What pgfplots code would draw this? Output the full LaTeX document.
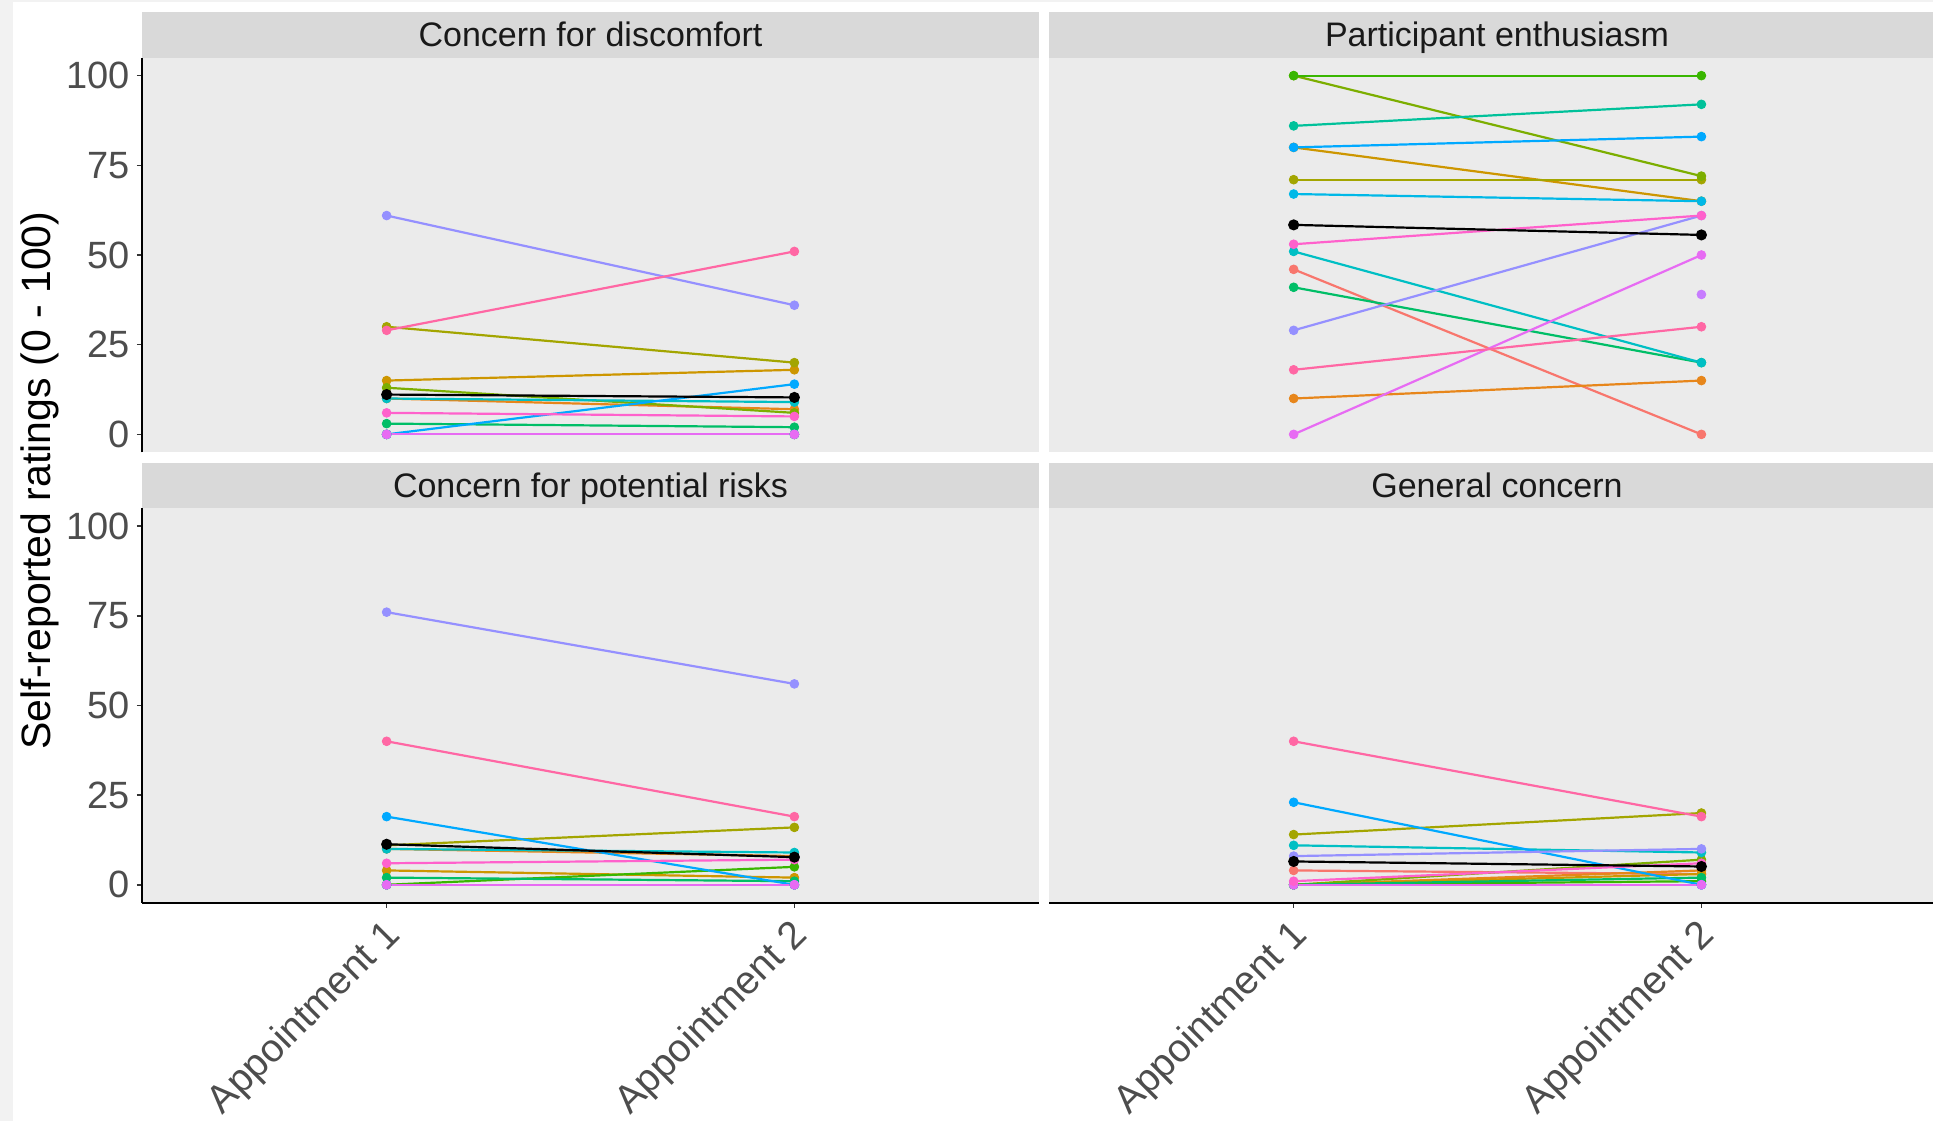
\documentclass[border=0pt]{standalone}
\usepackage{pgfplots}
\pgfplotsset{compat=1.18}
\usepackage{pgfplotstable}
\usepackage{fontspec}
\setmainfont{Liberation Sans}

\definecolor{c1}{HTML}{F8766D}
\definecolor{c2}{HTML}{E7861B}
\definecolor{c3}{HTML}{CD9600}
\definecolor{c4}{HTML}{A3A500}
\definecolor{c5}{HTML}{7CAE00}
\definecolor{c6}{HTML}{39B600}
\definecolor{c7}{HTML}{00BE67}
\definecolor{c8}{HTML}{00C19A}
\definecolor{c9}{HTML}{00BFC4}
\definecolor{c10}{HTML}{00B8E7}
\definecolor{c11}{HTML}{00A9FF}
\definecolor{c12}{HTML}{9590FF}
\definecolor{c13}{HTML}{C77CFF}
\definecolor{c14}{HTML}{E76BF3}
\definecolor{c15}{HTML}{FF61CC}
\definecolor{c16}{HTML}{FF67A4}
\definecolor{panelbg}{HTML}{EBEBEB}
\definecolor{stripbg}{HTML}{D9D9D9}
\definecolor{ticktxt}{HTML}{4D4D4D}
\definecolor{tickc}{HTML}{333333}
\definecolor{outerbg}{HTML}{F2F2F2}

% Concern for discomfort
\pgfplotstableread{
x p1 p2 p3 p4 p5 p6 p7 p8 p9 p10 p11 p12 p13 p14 p15 p16 m
1 0 10 15 30 13 0 3 0 10 0 0 61 0 0 6 29 11.1
2 0 7 18 20 6 0 2 0 9 0 14 36 0 0 5 51 10.3
}\tabA
% Participant enthusiasm
\pgfplotstableread{
x p1 p2 p3 p4 p5 p6 p7 p8 p9 p10 p11 p12 p13 p14 p15 p16 m
1 46 10 80 71 100 100 41 86 51 67 80 29 nan 0 53 18 58.4
2 0 15 65 71 72 100 20 92 20 65 83 61 39 50 61 30 55.6
}\tabB
% Concern for potential risks
\pgfplotstableread{
x p1 p2 p3 p4 p5 p6 p7 p8 p9 p10 p11 p12 p13 p14 p15 p16 m
1 0 10 4 11 0 0 2 0 10 0 19 76 0 0 6 40 11.3
2 0 8 2 16 0 5 1 0 9 0 0 56 0 0 7 19 7.7
}\tabC
% General concern
\pgfplotstableread{
x p1 p2 p3 p4 p5 p6 p7 p8 p9 p10 p11 p12 p13 p14 p15 p16 m
1 4 0 0 14 0 0 0 0 11 0 23 8 0 0 1 40 6.5
2 3 4 3 20 7 1 2 0 9 0 0 10 0 0 6 19 5.1
}\tabD

\newcommand{\plotpanel}[1]{%
  \pgfplotsinvokeforeach{1,...,16}{\addplot[c##1, line width=1.1pt, forget plot] table[x=x, y=p##1] {#1};}
  \pgfplotsinvokeforeach{1,...,16}{\addplot[c##1, only marks, mark=*, mark size=2.2pt, forget plot] table[x=x, y=p##1] {#1};}
  \addplot[black, line width=1.1pt, mark=*, mark size=2.2pt, forget plot] table[x=x, y=m] {#1};
}

\pgfplotsset{
  panel/.style={
    scale only axis, anchor=south west,
    height=197.3pt,
    xmin=0.4, ymin=-5, ymax=105,
    axis line style={draw=none},
    axis background/.style={fill=panelbg},
    unbounded coords=jump,
    clip=false,
    xtick pos=bottom, ytick pos=left,
    tick align=outside,
    major tick length=2.6pt,
    tick style={color=tickc, line width=0.8pt},
    xtick={1,2}, xticklabels={Appointment 1, Appointment 2},
    ytick={0,25,50,75,100},
    /pgf/number format/assume math mode=true,
    yticklabel style={font=\fontsize{19}{22}\selectfont, text=ticktxt, anchor=east, inner sep=0pt, xshift=-3.2pt},
    xticklabel style={font=\fontsize{19.6}{22}\selectfont, text=ticktxt, xshift=-2.6pt, yshift=-4.0pt, rotate=45, anchor=north east, inner sep=0pt},
  },
  leftp/.style={width=448.5pt, xmax=2.6},
  rightp/.style={width=442pt, xmax=2.568, ytick=\empty},
  topp/.style={xtick=\empty},
}

\begin{document}
\begin{tikzpicture}
\useasboundingbox (0,0) rectangle (966.5pt,-560.5pt);
\fill[outerbg] (0,0) rectangle (966.5pt,-560.5pt);
\fill[white] (6.35pt,-1.15pt) rectangle (966.5pt,-560.5pt);

% strips
\fill[stripbg] (71pt,-5.85pt) rectangle (519.5pt,-28.85pt);
\fill[stripbg] (524.5pt,-5.85pt) rectangle (966.5pt,-28.85pt);
\fill[stripbg] (71pt,-231.65pt) rectangle (519.5pt,-254.15pt);
\fill[stripbg] (524.5pt,-231.65pt) rectangle (966.5pt,-254.15pt);
\begin{scope}[every node/.style={anchor=base, text=black!90, font=\fontsize{17}{20}\selectfont}]
\node at (295.25pt,-23.35pt) {Concern for discomfort};
\node at (748.5pt,-23.35pt) {Participant enthusiasm};
\node at (295.25pt,-248.9pt) {Concern for potential risks};
\node at (748.5pt,-248.9pt) {General concern};
\end{scope}

\node[rotate=90, anchor=base, font=\fontsize{20.5}{24}\selectfont] at (25.2pt,-240.25pt) {Self-reported ratings (0 - 100)};

% top-left
\begin{axis}[panel, leftp, topp, at={(71pt,-226.15pt)}]
\plotpanel{\tabA}
\draw[black, line width=0.9pt] (rel axis cs:0,0) -- (rel axis cs:0,1);
\end{axis}
% top-right
\begin{axis}[panel, rightp, topp, at={(524.5pt,-226.15pt)}]
\plotpanel{\tabB}
\end{axis}
% bottom-left
\begin{axis}[panel, leftp, at={(71pt,-451.35pt)}]
\plotpanel{\tabC}
\draw[black, line width=0.9pt] (rel axis cs:0,0) -- (rel axis cs:0,1);
\draw[black, line width=0.9pt] (rel axis cs:0,0) -- (rel axis cs:1,0);
\end{axis}
% bottom-right
\begin{axis}[panel, rightp, at={(524.5pt,-451.35pt)}]
\plotpanel{\tabD}
\draw[black, line width=0.9pt] (rel axis cs:0,0) -- (rel axis cs:1,0);
\end{axis}
\end{tikzpicture}
\end{document}
